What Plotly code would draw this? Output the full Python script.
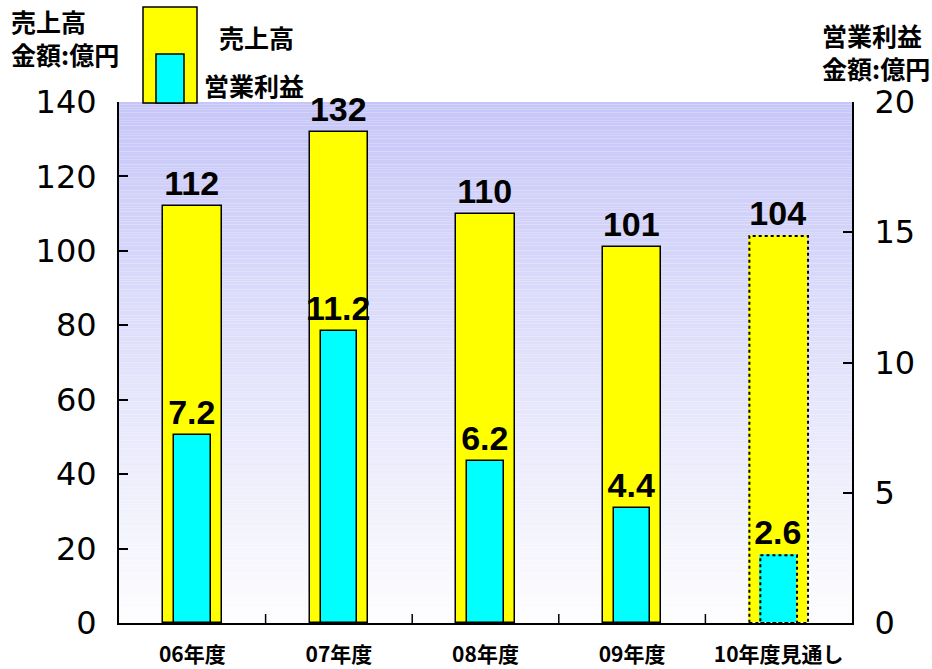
import plotly.graph_objects as go

categories = ["06年度", "07年度", "08年度", "09年度", "10年度見通し"]
sales = [112, 132, 110, 101, 104]
profit = [7.2, 11.2, 6.2, 4.4, 2.6]
forecast = [False, False, False, False, True]
left_ticks = [0, 20, 40, 60, 80, 100, 120, 140]
right_ticks = [0, 5, 10, 15, 20]

FONT = "Liberation Sans, Arial, Noto Sans CJK JP, sans-serif"
TFONT = "DejaVu Sans, sans-serif"
JFONT = "Noto Sans CJK JP, sans-serif"
YEL = "#ffff00"
CYA = "#00ffff"
W_SALES = 0.40
W_PROFIT = 0.25

xs = list(range(len(categories)))

fig = go.Figure()
fig.add_trace(go.Bar(
    x=xs, y=sales, width=W_SALES, yaxis="y",
    marker=dict(color=YEL,
                line=dict(color=["rgba(0,0,0,0)" if f else "#000" for f in forecast], width=1.5)),
    text=[str(v) for v in sales], textposition="outside", constraintext="none",
    textfont=dict(size=34, color="#000", family=FONT, weight="bold"),
    cliponaxis=False, showlegend=False,
))
fig.add_trace(go.Bar(
    x=xs, y=profit, width=W_PROFIT, yaxis="y2",
    marker=dict(color=CYA,
                line=dict(color=["rgba(0,0,0,0)" if f else "#000" for f in forecast], width=1.5)),
    text=[f"{v:.1f}" for v in profit], textposition="outside", constraintext="none",
    textfont=dict(size=34, color="#000", family=FONT, weight="bold"),
    cliponaxis=False, showlegend=False,
))

shapes = []
# gradient background
N = 200
top = (198, 198, 248)
bot = (253, 253, 254)
for i in range(N):
    t = i / (N - 1)
    c = tuple(round(top[k] + (bot[k] - top[k]) * t) for k in range(3))
    shapes.append(dict(type="rect", xref="paper", yref="paper",
                       x0=0, x1=1, y0=1 - (i + 1) / N, y1=1 - i / N,
                       fillcolor=f"rgb{c}", line=dict(width=0), layer="below"))

# dashed outlines for forecast bars
for i, f in enumerate(forecast):
    if f:
        shapes.append(dict(type="rect", xref="x", yref="y",
                           x0=xs[i] - W_SALES / 2, x1=xs[i] + W_SALES / 2, y0=0, y1=sales[i],
                           line=dict(color="#000", width=2, dash="dot")))
        shapes.append(dict(type="rect", xref="x", yref="y2",
                           x0=xs[i] - W_PROFIT / 2, x1=xs[i] + W_PROFIT / 2, y0=0, y1=profit[i],
                           line=dict(color="#000", width=2, dash="dot")))

# category boundary ticks on x axis
for b in range(1, len(categories)):
    shapes.append(dict(type="line", xref="x", yref="paper", x0=b - 0.5, x1=b - 0.5,
                       y0=0, y1=9 / 521, line=dict(color="#000", width=1.5)))

# custom legend symbol
shapes.append(dict(type="rect", xref="paper", yref="paper",
                   x0=(143 - 119) / 733, x1=(197 - 119) / 733,
                   y0=(623 - 103) / 521, y1=(623 - 7) / 521,
                   fillcolor=YEL, line=dict(color="#000", width=1.5)))
shapes.append(dict(type="rect", xref="paper", yref="paper",
                   x0=(156 - 119) / 733, x1=(184 - 119) / 733,
                   y0=(623 - 103) / 521, y1=(623 - 54) / 521,
                   fillcolor=CYA, line=dict(color="#000", width=1.5)))

JF = dict(size=25, family=JFONT, color="#000", weight="bold")
ann = [
    dict(text="売上高<br>金額:億円", xref="paper", yref="paper", x=(9 - 119) / 733, y=(623 - 1) / 521,
         xanchor="left", yanchor="top", align="left", showarrow=False, font=JF),
    dict(text="営業利益<br>金額:億円", xref="paper", yref="paper", x=(932 - 119) / 733, y=(623 - 15) / 521,
         xanchor="right", yanchor="top", align="left", showarrow=False, font=JF),
    dict(text="売上高", xref="paper", yref="paper", x=(217 - 119) / 733, y=(623 - 37) / 521,
         xanchor="left", yanchor="middle", showarrow=False, font=JF),
    dict(text="営業利益", xref="paper", yref="paper", x=(202 - 119) / 733, y=(623 - 85) / 521,
         xanchor="left", yanchor="middle", showarrow=False, font=JF),
]

fig.update_layout(
    width=932, height=669,
    margin=dict(l=119, r=80, t=102, b=46),
    paper_bgcolor="#ffffff", plot_bgcolor="rgba(0,0,0,0)",
    barmode="overlay", bargap=0,
    shapes=shapes, annotations=ann,
    xaxis=dict(range=[-0.5, len(categories) - 0.5], tickvals=xs, ticktext=categories,
               showgrid=False, zeroline=False, showline=True, linecolor="#000", linewidth=2,
               ticks="", tickfont=dict(size=21, family=JFONT, color="#000", weight="bold"),
               ticklabelstandoff=12, automargin=False),
    yaxis=dict(range=[0, 140], tickvals=left_ticks, showgrid=False, zeroline=False,
               showline=True, linecolor="#000", linewidth=2, ticks="inside", ticklen=9,
               tickcolor="#000", tickwidth=2, automargin=False,
               tickfont=dict(size=32, family=TFONT, color="#000"), ticklabelstandoff=14),
    yaxis2=dict(range=[0, 20], tickvals=right_ticks, overlaying="y", side="right",
                showgrid=False, zeroline=False, showline=True, linecolor="#000", linewidth=2,
                ticks="inside", ticklen=9, tickcolor="#000", tickwidth=2, automargin=False,
                tickfont=dict(size=32, family=TFONT, color="#000"), ticklabelstandoff=14),
)

fig.write_html("out.html")
